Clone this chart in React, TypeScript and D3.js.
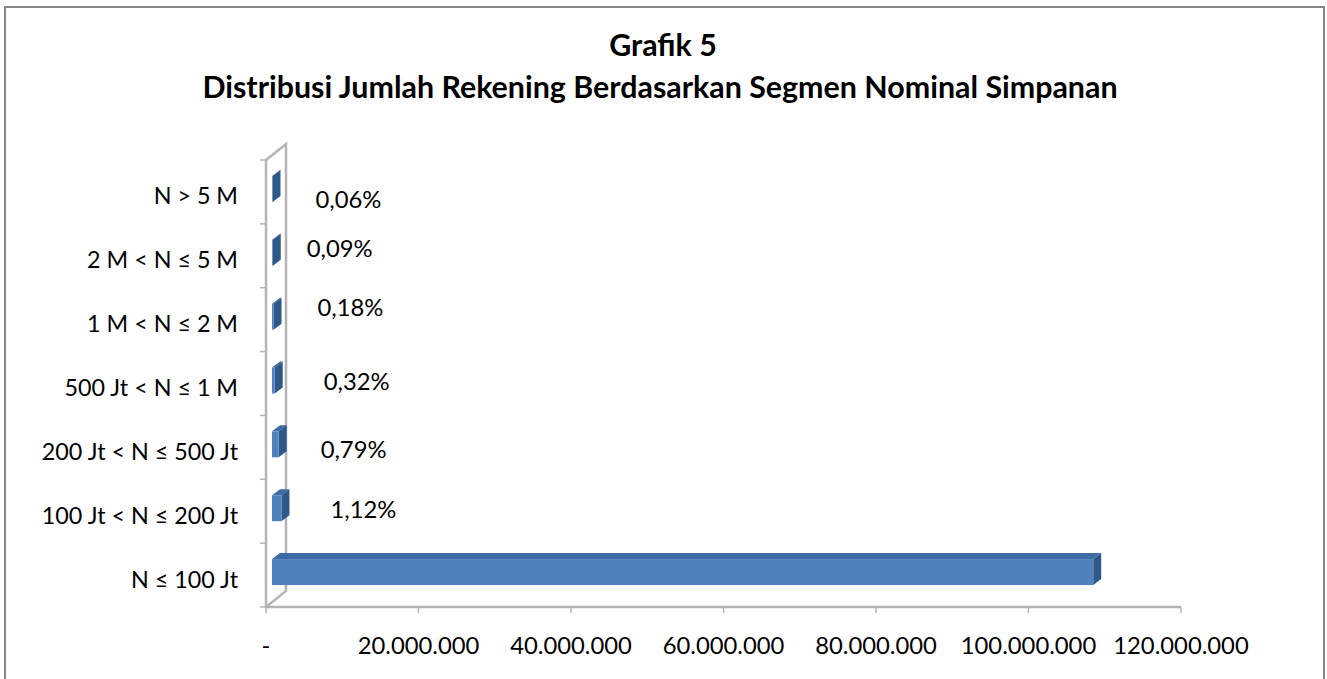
import React from 'react';
import * as d3 from 'd3';

// kategori dari atas ke bawah
const categories = [
  'N > 5 M',
  '2 M < N ≤ 5 M',
  '1 M < N ≤ 2 M',
  '500 Jt < N ≤ 1 M',
  '200 Jt < N ≤ 500 Jt',
  '100 Jt < N ≤ 200 Jt',
  'N ≤ 100 Jt',
];
// jumlah rekening (perkiraan dari gambar)
const rekening = [66000, 99000, 199000, 354000, 873000, 1238000, 107700000];
const persen = ['0,06%', '0,09%', '0,18%', '0,32%', '0,79%', '1,12%', ''];
const xTicks = [0, 20000000, 40000000, 60000000, 80000000, 100000000, 120000000];

// label digeser manual seperti di excel
const labelDx = [35, 26, 36, 41, 34, 41, 0];
const labelDy = [8, -7, -12, -2, 3, -1, 0];

const W = 1327;
const H = 679;
const FONT = 'Lato, "Open Sans", sans-serif';

const App: React.FC = () => {
  const x = d3.scaleLinear().domain([0, 120000000]).range([266, 1181]);
  const y = d3.scaleBand<string>().domain(categories).range([160, 607]);

  const depthX = 20;
  const depthY = -16;
  const frontX = 6; // posisi muka depan bar
  const sideX = 8;
  const sideY = -6;
  const bh = 26;

  const fmt = (v: number) => (v === 0 ? '-' : d3.format(',')(v).replace(/,/g, '.'));

  const y0 = y.range()[0];
  const y1 = y.range()[1];
  const gray = '#b4b4b4';

  return (
    <svg width={W} height={H} style={{ position: 'absolute', left: 0, top: 0, background: '#fff' }} fontFamily={FONT}>
      <rect x={5} y={7} width={1319} height={H + 20} fill="#fff" stroke="#878787" strokeWidth={2} />

      <text x={663} y={56} textAnchor="middle" fontWeight="bold" fontSize={30.4}>Grafik 5</text>
      <text x={660} y={98} textAnchor="middle" fontWeight="bold" fontSize={30.4}>
        Distribusi Jumlah Rekening Berdasarkan Segmen Nominal Simpanan
      </text>

      {/* dinding samping 3D */}
      <path
        d={`M${x(0)},${y0} L${x(0) + depthX},${y0 + depthY} L${x(0) + depthX},${y1 + depthY} L${x(0)},${y1}`}
        fill="none"
        stroke={gray}
        strokeWidth={2.5}
      />
      <line x1={x(0)} x2={x(0)} y1={y0} y2={y1} stroke={gray} strokeWidth={2.5} />
      <line x1={x(0)} x2={x(120000000)} y1={y1} y2={y1} stroke={gray} strokeWidth={2.5} />

      {/* tick sumbu y */}
      {categories.map((c) => (
        <line key={'t' + c} x1={x(0) - 6} x2={x(0)} y1={y(c)!} y2={y(c)!} stroke={gray} strokeWidth={1.5} />
      ))}
      <line x1={x(0) - 6} x2={x(0)} y1={y1} y2={y1} stroke={gray} strokeWidth={1.5} />

      {/* tick sumbu x */}
      {xTicks.map((t) => (
        <g key={'x' + t}>
          <line x1={x(t)} x2={x(t)} y1={y1} y2={y1 + 6} stroke={gray} strokeWidth={1.5} />
          <text x={x(t)} y={y1 + 47} textAnchor="middle" fontSize={23.8}>{fmt(t)}</text>
        </g>
      ))}

      {/* label kategori */}
      {categories.map((c) => (
        <text key={'l' + c} x={238} y={y(c)! + y.bandwidth() / 2 + 12.5} textAnchor="end" fontSize={23.3}>
          {c}
        </text>
      ))}

      {/* bar 3D */}
      {categories.map((c, i) => {
        const xa = x(0) + frontX;
        const xb = x(rekening[i]) + frontX;
        const yt = y(c)! + y.bandwidth() / 2 - 3 - bh / 2;
        return (
          <g key={'b' + c}>
            <polygon
              points={`${xa},${yt} ${xa + sideX},${yt + sideY} ${xb + sideX},${yt + sideY} ${xb},${yt}`}
              fill="#3d6ba3"
            />
            <polygon
              points={`${xb},${yt} ${xb + sideX},${yt + sideY} ${xb + sideX},${yt + sideY + bh} ${xb},${yt + bh}`}
              fill="#2d5888"
            />
            <rect x={xa} y={yt} width={Math.max(xb - xa, 0)} height={bh} fill="#4f81bd" />
          </g>
        );
      })}

      {/* label persen */}
      {categories.map((c, i) =>
        persen[i] ? (
          <text
            key={'p' + c}
            x={x(rekening[i]) + frontX + sideX + labelDx[i]}
            y={y(c)! + y.bandwidth() / 2 + 8 + labelDy[i]}
            fontSize={23.8}
          >
            {persen[i]}
          </text>
        ) : null,
      )}
    </svg>
  );
};

export default App;
